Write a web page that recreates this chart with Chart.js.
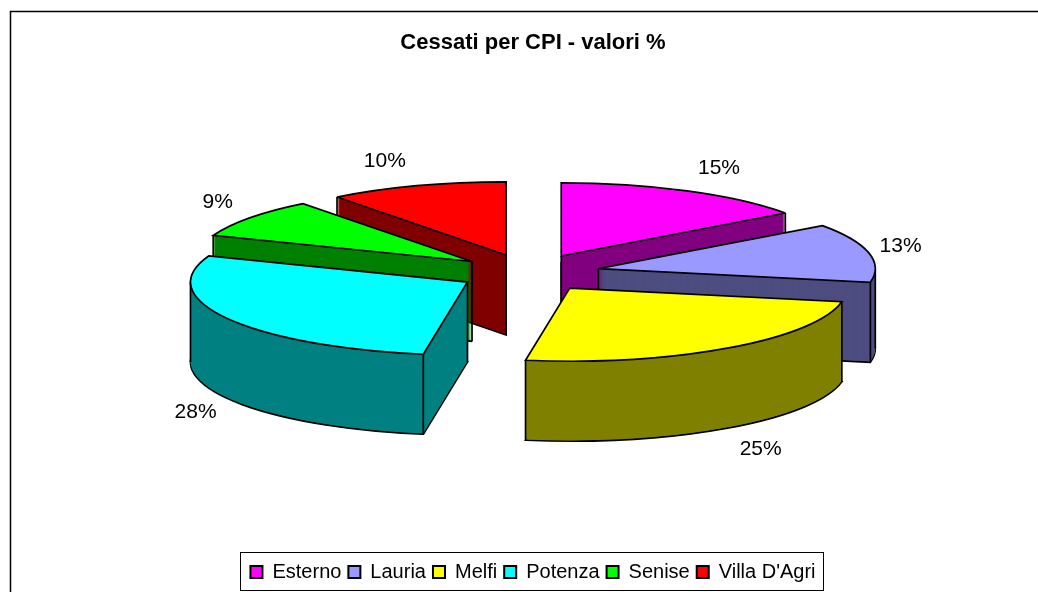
<!DOCTYPE html>
<html><head><meta charset="utf-8">
<script src="https://cdn.jsdelivr.net/npm/chart.js@4"></script>
<style>html,body{margin:0;padding:0;background:#fff;overflow:hidden}canvas{display:block}</style>
</head><body><canvas id="c" width="1038" height="592"></canvas>
<script>
const categories = ["Esterno","Lauria","Melfi","Potenza","Senise","Villa D'Agri"];
const percentValues = [15,13,24.55,28.25,8.75,10.45];
const topColors = ["#FF00FF","#9999FF","#FFFF00","#00FFFF","#00FF00","#FF0000"];
const wallColors = ["#800080","#4D4D80","#808000","#008080","#008000","#800000"];
const titleText = "Cessati per CPI - valori %";

const FONT = "'Liberation Sans', Arial, sans-serif";
const view = {squash:0.264, depth:80, explode:71, radius:277, shiftX:-4, shiftY:-38,
              labelGapX:32, labelGapYBase:1.5, labelGapY:24, line:1.7};

function inRange(a, s, e){ return a >= s && a <= e; }

const pie3d = {
  id:'pie3d',
  beforeDraw(chart){
    const ctx = chart.ctx;
    ctx.save();
    ctx.fillStyle='#fff'; ctx.fillRect(0,0,chart.width,chart.height);
    ctx.strokeStyle='#000'; ctx.lineWidth=1.5;
    ctx.beginPath(); ctx.moveTo(10.5,chart.height); ctx.lineTo(10.5,11.5); ctx.lineTo(chart.width,11.5); ctx.stroke();
    ctx.restore();
  },
  beforeDatasetDraw(chart){
    const ctx = chart.ctx, k = view.squash;
    const arcs = chart.getDatasetMeta(0).data.map((arc,i)=>{
      const mid=(arc.startAngle+arc.endAngle)/2;
      return {arc,i,mid,
        cx:arc.x+view.shiftX+Math.cos(mid)*view.explode,
        cy:arc.y+view.shiftY+Math.sin(mid)*view.explode*k};
    }).sort((a,b)=>a.cy-b.cy);

    const paint = (s,d,color)=>{
      const a=s.arc, orig=a.options;
      a.options=Object.create(orig,{backgroundColor:{value:color},borderWidth:{value:0}});
      ctx.save();
      ctx.translate(s.cx,s.cy+d); ctx.scale(1,k); ctx.translate(-a.x,-a.y);
      a.draw(ctx);
      ctx.restore();
      a.options=orig;
    };
    const outline = (s,d)=>{
      const a=s.arc;
      ctx.save();
      ctx.translate(s.cx,s.cy+d); ctx.scale(1,k);
      ctx.beginPath(); ctx.moveTo(0,0); ctx.arc(0,0,a.outerRadius,a.startAngle,a.endAngle); ctx.closePath();
      ctx.restore();
      ctx.strokeStyle='#000'; ctx.lineWidth=view.line; ctx.lineJoin='miter'; ctx.miterLimit=3; ctx.stroke();
    };
    const vertical = (s,ang)=>{
      const r=ang===null?0:s.arc.outerRadius;
      const x=s.cx+(ang===null?0:Math.cos(ang)*r), y=s.cy+(ang===null?0:Math.sin(ang)*r*k);
      ctx.strokeStyle='#000'; ctx.lineWidth=view.line;
      ctx.beginPath(); ctx.moveTo(x,y); ctx.lineTo(x,y+view.depth); ctx.stroke();
    };

    arcs.forEach(s=>{
      const a=s.arc, c=wallColors[s.i], T=Math.PI*2;
      paint(s,view.depth,c); outline(s,view.depth);
      for(let d=view.depth-1;d>0;d--) paint(s,d,c);
      const st=a.startAngle, en=a.endAngle;
      const sinS=Math.sin(st+Math.PI/2), sinE=Math.sin(en+Math.PI/2);
      const showStart=sinS<0, showEnd=sinE>0;
      if(showStart||showEnd) vertical(s,null);
      const front=v=>{const n=((v%T)+T)%T; return n>=0&&n<=Math.PI;};
      if(showStart||front(st)) vertical(s,st);
      if(showEnd||front(en)) vertical(s,en);
      [0,Math.PI].forEach(e=>{[e,e+T,e-T].forEach(v=>{ if(inRange(v,st,en)) vertical(s,v); });});
      paint(s,0,topColors[s.i]); outline(s,0);
    });

    ctx.save();
    ctx.font="21px "+FONT; ctx.fillStyle='#000'; ctx.textAlign='center'; ctx.textBaseline='middle';
    arcs.forEach(s=>{
      const cos=Math.cos(s.mid), sin=Math.sin(s.mid), R=s.arc.outerRadius;
      const x=s.cx+cos*R+Math.sign(cos)*view.labelGapX;
      const y=s.cy+sin*R*k+Math.sign(sin)*(view.labelGapYBase+Math.abs(sin)*view.labelGapY)+(sin>0&&Math.abs(cos)<0.95?view.depth:0);
      ctx.fillText(Math.round(percentValues[s.i])+"%",x,y);
    });
    ctx.restore();
    return false;
  },
  afterDraw(chart){
    const boxes=chart.legend.legendHitBoxes, ctx=chart.ctx;
    const L=Math.min(...boxes.map(b=>b.left))-10, R=Math.max(...boxes.map(b=>b.left+b.width))+8;
    const T=Math.min(...boxes.map(b=>b.top))-10, B=Math.max(...boxes.map(b=>b.top+b.height))+8;
    ctx.save(); ctx.strokeStyle='#000'; ctx.lineWidth=1;
    ctx.strokeRect(Math.round(L)+.5,Math.round(T)+.5,Math.round(R-L),Math.round(B-T));
    ctx.restore();
  }
};

new Chart(document.getElementById('c'),{
  type:'pie',
  data:{labels:categories,datasets:[{data:percentValues,backgroundColor:topColors,borderColor:'#000',borderWidth:2,radius:view.radius}]},
  options:{
    responsive:false,animation:false,
    layout:{padding:{left:28,right:0,top:0,bottom:0}},
    events:[],
    plugins:{
      tooltip:{enabled:false},
      title:{display:true,text:titleText,color:'#000',font:{family:FONT,size:22,weight:'bold'},padding:{top:30,bottom:10}},
      legend:{display:true,position:'bottom',labels:{color:'#000',boxWidth:12,boxHeight:12,padding:7,font:{family:FONT,size:20}}}
    }
  },
  plugins:[pie3d]
});
</script></body></html>
